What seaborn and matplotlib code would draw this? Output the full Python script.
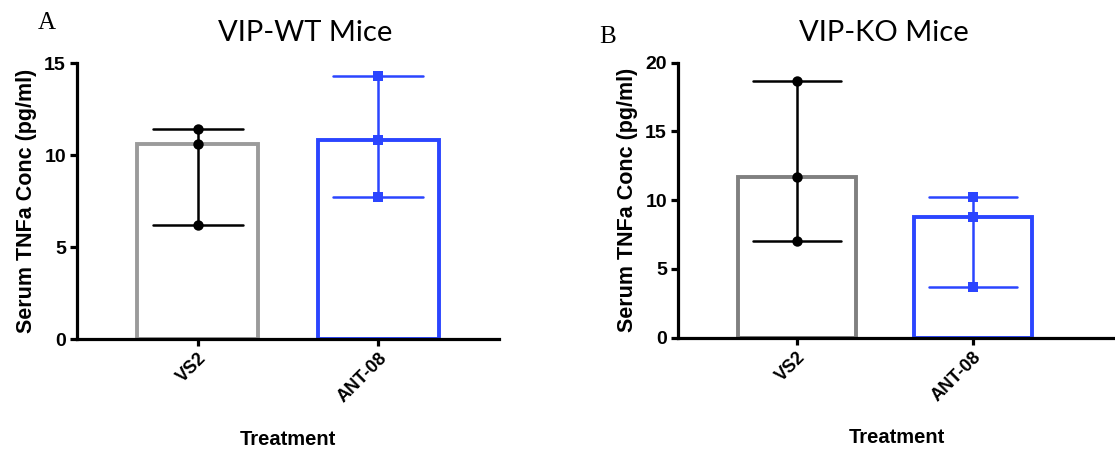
import pandas as pd
import numpy as np
import seaborn as sns
import matplotlib.pyplot as plt

# values (three mice per group)
treatments = ["VS2", "ANT-08"]
wt_vs2 = [11.4, 10.6, 6.2]
wt_ant08 = [14.3, 10.8, 7.7]
ko_vs2 = [18.7, 11.7, 7.0]
ko_ant08 = [10.2, 8.8, 3.7]

panels = [
    ("A", "VIP-WT Mice", wt_vs2, wt_ant08, [0, 5, 10, 15]),
    ("B", "VIP-KO Mice", ko_vs2, ko_ant08, [0, 5, 10, 15, 20]),
]

sns.set_style("ticks")
plt.rcParams["font.family"] = ["Liberation Sans", "DejaVu Sans"]
plt.rcParams["text.color"] = "black"
plt.rcParams["axes.labelcolor"] = "black"
plt.rcParams["xtick.color"] = "black"
plt.rcParams["ytick.color"] = "black"

fig = plt.figure(figsize=(11.15, 4.51), dpi=100)
ax_a = fig.add_axes([0.0691, 0.2483, 0.3785, 0.612])
ax_b = fig.add_axes([0.6081, 0.2512, 0.3919, 0.6098])

blue = "#2b45ff"
bar_edges = {"A": ["#9b9b9b", blue], "B": ["#808080", blue]}
err_cols = ["black", blue]
markers = ["o", "s"]

for ax, (letter, title, vs2, ant, yticks) in zip([ax_a, ax_b], panels):
    df = pd.DataFrame({
        "Treatment": ["VS2"] * len(vs2) + ["ANT-08"] * len(ant),
        "TNFa": vs2 + ant,
    })

    # bar = median, error bar = range, like the original prism plot
    for i, name in enumerate(treatments):
        sub = df[df["Treatment"] == name]
        sns.barplot(data=sub, x="Treatment", y="TNFa", order=treatments,
                    estimator="median", errorbar=("pi", 100), capsize=0.5,
                    fill=False, color=bar_edges[letter][i], linewidth=2.8,
                    width=0.67,
                    err_kws={"color": err_cols[i], "linewidth": 1.8}, ax=ax)
        sns.stripplot(data=sub, x="Treatment", y="TNFa", order=treatments,
                      jitter=False, color=err_cols[i], marker=markers[i],
                      size=7.5, linewidth=0, ax=ax, zorder=5)

    ax.set_ylim(0, yticks[-1])
    ax.set_yticks(yticks)
    if letter == "A":
        ax.set_xlim(-0.67, 1.67)
        ax.xaxis.set_label_coords(0.5, -0.33)
    else:
        ax.set_xlim(-0.676, 1.81)
        ax.xaxis.set_label_coords(0.4725, -0.33)

    ax.set_xlabel("Treatment", fontsize=14.5, fontweight="bold")
    ax.set_ylabel("Serum TNFa Conc (pg/ml)", fontsize=15.5, fontweight="bold",
                  labelpad=5)

    for lab in ax.get_yticklabels():
        lab.set_fontweight("bold")
        lab.set_fontsize(14)
    ax.set_xticks(range(len(treatments)))
    ax.set_xticklabels(treatments, rotation=45, ha="right",
                       rotation_mode="anchor", fontsize=13,
                       fontweight="bold")

    sns.despine(ax=ax)
    for side in ["left", "bottom"]:
        ax.spines[side].set_linewidth(2.3)
        ax.spines[side].set_color("black")
    ax.tick_params(width=2.3, length=5, color="black", pad=3)

    ax.text(0.54 if letter == "A" else 0.47, 1.06, title,
            transform=ax.transAxes, ha="center", va="bottom",
            fontsize=21, family=["Lato", "DejaVu Sans"])

fig.text(0.034, 0.935, "A", fontsize=18, family=["Liberation Serif"])
fig.text(0.537, 0.905, "B", fontsize=18, family=["Liberation Serif"])

plt.savefig("out.png", dpi=100)
